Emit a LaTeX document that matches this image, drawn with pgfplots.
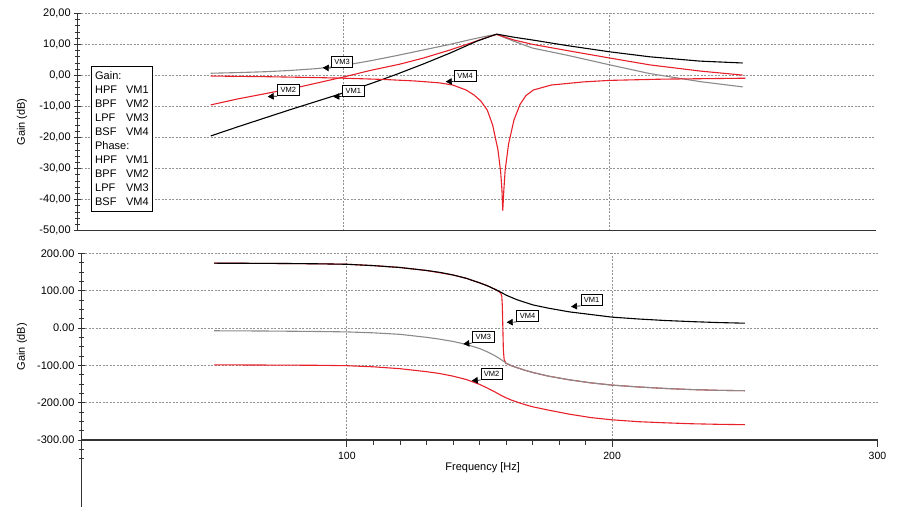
\documentclass[border=0pt]{standalone}
\usepackage{fontspec}
\setmainfont{Liberation Sans}
\usepackage{pgfplots}
\pgfplotsset{compat=1.18}
\usetikzlibrary{arrows.meta}

\definecolor{simred}{HTML}{E8202A}
\definecolor{simgray}{HTML}{8A8A8A}
\definecolor{axisgray}{HTML}{333333}

\pgfplotsset{
  bode/.style={
    scale only axis, anchor=south west,
    xmin=0, xmax=300,
    axis x line=bottom, axis y line=left,
    axis line style={-, axisgray, line width=1.3pt},
    xmajorgrids, ymajorgrids,
    grid style={dash pattern=on 2pt off 1.5pt, gray!85, line width=0.7pt},
    tick style={axisgray, line width=0.8pt},
    tick align=center,
    major tick length=7pt, minor tick length=5pt,
    /pgf/number format/assume math mode=true,
    yticklabel style={font=\fontsize{11}{13}\selectfont},
    xticklabel style={font=\fontsize{10.5}{12}\selectfont, yshift=-5pt},
    ylabel style={font=\fontsize{11}{13}\selectfont, anchor=center},
    xlabel style={font=\fontsize{11}{13}\selectfont, anchor=center},
    every axis plot/.append style={line width=1.1pt, no marks},
  },
}

% tag: box centre x, y (px from top-left), arrow tip x, y, text
\newcommand\vmtag[5]{%
  \node[draw=black, fill=white, line width=0.7pt, inner sep=0pt,
        minimum width=21.5pt, minimum height=11pt,
        font=\fontsize{7.5}{9}\selectfont] (t) at (#1pt,508pt-#2pt) {#5};
  \draw[line width=0.7pt, -{Triangle[length=6pt,width=6.5pt]}]
        (t.south west) -- (#3pt,508pt-#4pt);
}
\newcommand\lrow[2]{\makebox[31pt][l]{#1}#2}

\begin{document}
\begin{tikzpicture}
\path[use as bounding box] (0,0) rectangle (900pt,508pt);

% ---------------- gain ----------------
\begin{axis}[bode,
    at={(77.7pt,277.3pt)}, width=798pt, height=217.4pt,
    ymin=-50, ymax=20,
    ytick={-50,-40,...,20}, minor y tick num=4,
    xtick={100,200}, xticklabels={}, xtick style={draw=none},
    yticklabel style={/pgf/number format/.cd, fixed, fixed zerofill, precision=2, use comma},
    ylabel={Gain (dB)},
    ylabel style={at={(axis description cs:-0.0698,0.5)}},
]
% LPF VM3
\addplot[simgray] table {
50 0.7
60 0.9
71 1.2
80 1.6
90 2.2
100 3.2
110 4.7
120 6.4
130 8.2
140 10.0
148 11.6
154 12.7
157.5 13.2
164 11.0
171 8.8
184 6.5
200 3.4
215 0.6
234 -2.0
250 -3.7
};
% BPF VM2
\addplot[simred] table {
50 -9.5
60 -7.6
71 -5.8
84 -3.6
100 -0.5
110 1.6
121 3.6
130 5.6
140 8.2
148 10.5
154 12.3
157.5 13.2
164 11.4
171 10.0
184 8.0
200 5.6
215 3.4
234 1.4
250 0.1
};
% HPF VM1
\addplot[black] table {
50 -19.5
60 -16.6
70 -13.8
80 -11.0
90 -8.3
100 -5.6
110 -2.7
120 0.4
130 3.7
140 7.2
150 11.0
157.5 13.3
164 12.3
171 11.4
184 9.6
200 7.6
215 6.0
234 4.6
250 4.0
};
% BSF VM4
\addplot[simred] table {
50 -0.2
70 -0.4
90 -0.7
100 -0.9
115 -1.3
127 -1.8
136 -2.4
141 -3.1
146 -4.7
149 -6.3
151.5 -8.2
154 -11.2
156 -16.0
158 -24.0
159 -31.0
159.5 -37.0
159.8 -43.5
160.2 -37.0
160.7 -30.5
162 -22.0
164 -14.4
166.3 -9.3
168.5 -6.5
171.3 -4.7
178 -3.1
190 -2.1
200 -1.6
220 -1.2
251 -0.9
};
\end{axis}

% ---------------- phase ----------------
\begin{axis}[bode,
    at={(81.5pt,68pt)}, width=796pt, height=186.7pt,
    ymin=-300, ymax=200,
    ytick={-300,-200,...,200}, minor y tick num=3,
    xtick={100,200}, extra x ticks={300}, extra x tick style={grid=none},
    minor x tick num=9,
    x tick style={/pgfplots/tick align=outside},
    yticklabel style={/pgf/number format/.cd, fixed, fixed zerofill, precision=2},
    ylabel={Gain (dB)},
    ylabel style={at={(axis description cs:-0.0747,0.5)}},
    xlabel={Frequency [Hz]},
    xlabel style={at={(axis description cs:0.504,-0.15)}},
]
% BSF VM4
\addplot[simred] table {
50 173.5
70 173.0
90 171.8
100 170.6
110 167
120 162
130 154
140 142
145 133
150 121
153 113
156 103
157 99
158 93.5
158.4 85
158.6 60
158.8 0
159 -60
159.3 -85
160 -95
161 -98
162 -101
164 -106
167 -113
170 -119
176 -129
184 -139
192 -147
200 -153
210 -158
220 -162
230 -165
240 -167
250 -168
};
% HPF VM1
\addplot[black] table {
50 173.5
60 173.3
70 173.0
80 172.5
90 171.8
100 170.6
110 167
120 162
130 154
135 149
140 142
145 133
150 121
153 113
156 103
158 96
160 88
162 82
164 76
167 69
170 62
176 53
184 43
192 36
200 29
210 24
220 20
230 17
240 14.5
250 12.8
};
% LPF VM3
\addplot[simgray] table {
50 -7.5
60 -7.8
70 -8.2
80 -8.8
90 -9.5
100 -10.5
110 -13
120 -17
130 -25
135 -30
140 -36
145 -44
150 -55
153 -64
156 -75
158 -84
160 -94
162 -101
164 -106
167 -113
170 -119
176 -129
184 -139
192 -147
200 -153
210 -158
220 -162
230 -165
240 -167
250 -168
};
% BPF VM2
\addplot[simred] table {
50 -99
60 -99
70 -99.3
80 -99.6
90 -100
100 -101
110 -104
120 -109
130 -117
135 -122
140 -129
145 -138
150 -151
153 -161
156 -172
158 -180
160 -187
162 -193
164 -198
167 -205
170 -211
176 -220
184 -231
192 -240
200 -246
210 -251
220 -254
230 -256.5
240 -258
250 -259
};
\end{axis}

% phase y axis runs on below the plot
\draw[axisgray, line width=1.3pt] (81.5pt,68pt) -- (81.5pt,1pt);
\draw[axisgray, line width=0.8pt] (79pt,58.7pt) -- (84pt,58.7pt);
\draw[axisgray, line width=0.8pt] (79pt,49.3pt) -- (84pt,49.3pt);

% legend box
\node[draw=black, line width=0.9pt, fill=white, anchor=north west,
      inner xsep=4pt, inner ysep=5.5pt, align=left,
      font=\fontsize{11}{14}\selectfont]
  at (90.7pt,442.3pt) {%
  Gain:\\
  \lrow{HPF}{VM1}\\
  \lrow{BPF}{VM2}\\
  \lrow{LPF}{VM3}\\
  \lrow{BSF}{VM4}\\
  Phase:\\
  \lrow{HPF}{VM1}\\
  \lrow{BPF}{VM2}\\
  \lrow{LPF}{VM3}\\
  \lrow{BSF}{VM4}};

% curve tags, gain
\vmtag{342}{62.2}{322.7}{67.7}{VM3}
\vmtag{288.3}{90.3}{267.7}{96.7}{VM2}
\vmtag{353.3}{90.5}{333.3}{96.7}{VM1}
\vmtag{465.2}{75.5}{445.7}{81.7}{VM4}
% curve tags, phase
\vmtag{591.7}{300}{571}{306.7}{VM1}
\vmtag{527.5}{316.2}{506.7}{322.3}{VM4}
\vmtag{483.3}{337.2}{463.3}{344}{VM3}
\vmtag{491.7}{374.2}{471.7}{380.7}{VM2}
\end{tikzpicture}
\end{document}
